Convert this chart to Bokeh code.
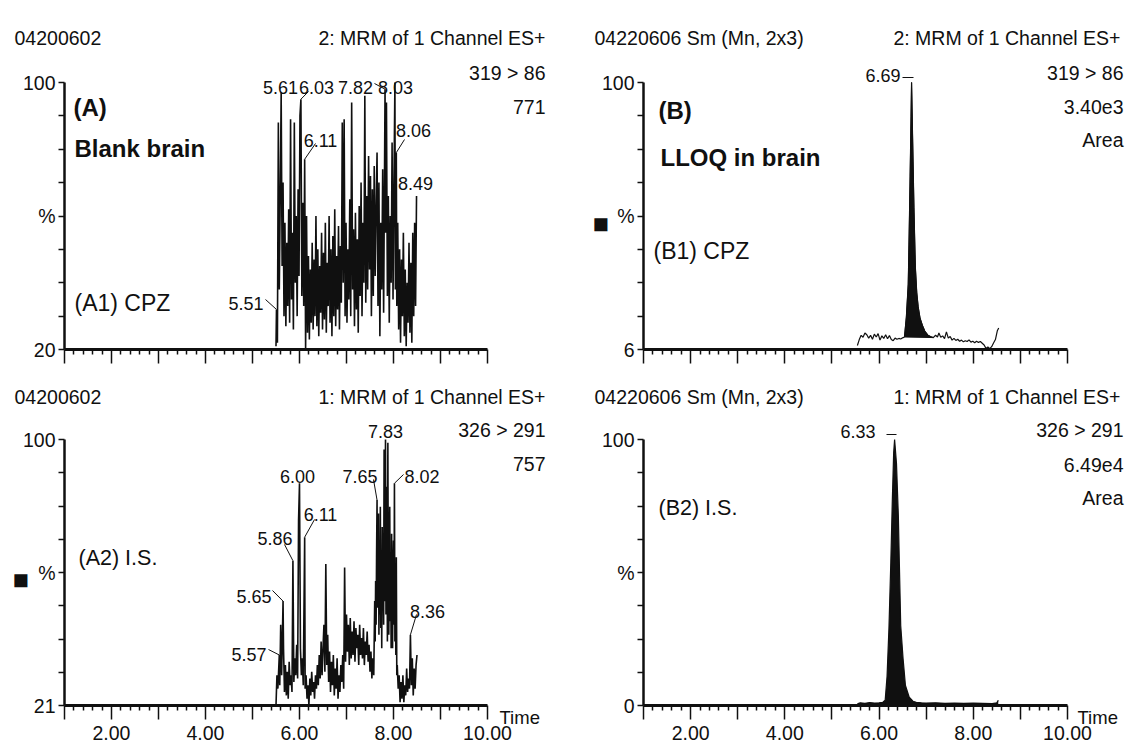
from bokeh.plotting import figure
from bokeh.layouts import column, row
from bokeh.models import Range1d, FixedTicker, CustomJSTickFormatter, Label, Arrow
from bokeh.embed import file_html
from bokeh.resources import INLINE

# ---------------- chromatogram data: time (min), relative intensity (%) ----------------
# (A1) blank brain, CPZ channel 319 > 86
a1_time = [5.50, 5.51, 5.53, 5.55, 5.57, 5.59, 5.61, 5.63, 5.65, 5.67, 5.69, 5.71, 5.73, 5.75,
           5.77, 5.79, 5.81, 5.83, 5.85, 5.87, 5.89, 5.91, 5.93, 5.95, 5.97, 5.99, 6.01, 6.03,
           6.05, 6.07, 6.09, 6.11, 6.13, 6.15, 6.17, 6.19, 6.21, 6.23, 6.25, 6.27, 6.29, 6.31,
           6.33, 6.35, 6.37, 6.39, 6.41, 6.43, 6.45, 6.47, 6.49, 6.51, 6.53, 6.55, 6.57, 6.59,
           6.61, 6.63, 6.65, 6.67, 6.69, 6.71, 6.73, 6.75, 6.77, 6.79, 6.81, 6.83, 6.85, 6.87,
           6.89, 6.91, 6.93, 6.95, 6.97, 6.99, 7.01, 7.03, 7.05, 7.07, 7.09, 7.11, 7.13, 7.15,
           7.17, 7.19, 7.21, 7.23, 7.25, 7.27, 7.29, 7.31, 7.33, 7.35, 7.37, 7.39, 7.41, 7.43,
           7.45, 7.47, 7.49, 7.51, 7.53, 7.55, 7.57, 7.59, 7.61, 7.63, 7.65, 7.67, 7.69, 7.71,
           7.73, 7.75, 7.77, 7.79, 7.82, 7.83, 7.85, 7.87, 7.89, 7.91, 7.93, 7.95, 7.97, 7.99,
           8.01, 8.03, 8.04, 8.06, 8.07, 8.09, 8.11, 8.13, 8.15, 8.17, 8.19, 8.21, 8.23, 8.25,
           8.27, 8.29, 8.31, 8.33, 8.35, 8.37, 8.39, 8.41, 8.43, 8.45, 8.47, 8.49]
a1_pct = [21, 32, 22, 88, 38, 66, 97, 45, 70, 30, 58, 27, 52, 33,
          62, 28, 89, 35, 55, 26, 88, 40, 60, 30, 68, 42, 90, 95,
          36, 64, 33, 77, 20, 60, 25, 48, 23, 44, 28, 52, 26, 47,
          30, 60, 27, 50, 24, 45, 31, 55, 26, 49, 29, 58, 25, 46,
          33, 60, 28, 50, 24, 54, 30, 62, 27, 48, 32, 57, 26, 51,
          34, 88, 40, 89, 30, 58, 28, 50, 35, 65, 30, 94, 38, 56,
          27, 61, 32, 53, 25, 63, 36, 70, 30, 58, 40, 96, 34, 66,
          38, 78, 44, 72, 30, 68, 36, 75, 42, 62, 79, 33, 70, 24,
          58, 38, 74, 31, 98, 55, 94, 36, 66, 28, 60, 40, 82, 35,
          70, 100, 38, 79, 33, 58, 26, 50, 22, 47, 30, 55, 24, 44,
          21, 40, 28, 52, 25, 46, 22, 55, 30, 58, 33, 66]
a1_peaks = [5.51, 5.61, 6.03, 6.11, 7.82, 8.03, 8.06, 8.49]

# (A2) blank brain, I.S. channel 326 > 291
a2_time = [5.50, 5.52, 5.54, 5.57, 5.58, 5.60, 5.62, 5.65, 5.66, 5.68, 5.70, 5.72, 5.74, 5.76,
           5.78, 5.80, 5.82, 5.84, 5.86, 5.88, 5.90, 5.92, 5.94, 5.96, 5.98, 6.00, 6.02, 6.04,
           6.06, 6.08, 6.11, 6.12, 6.14, 6.16, 6.18, 6.20, 6.22, 6.24, 6.26, 6.28, 6.30, 6.32,
           6.34, 6.36, 6.38, 6.40, 6.42, 6.44, 6.46, 6.48, 6.50, 6.52, 6.54, 6.56, 6.58, 6.60,
           6.62, 6.64, 6.66, 6.68, 6.70, 6.72, 6.74, 6.76, 6.78, 6.80, 6.82, 6.84, 6.86, 6.88,
           6.90, 6.92, 6.94, 6.96, 6.98, 7.00, 7.02, 7.04, 7.06, 7.08, 7.10, 7.12, 7.14, 7.16,
           7.18, 7.20, 7.22, 7.24, 7.26, 7.28, 7.30, 7.32, 7.34, 7.36, 7.38, 7.40, 7.42, 7.44,
           7.46, 7.48, 7.50, 7.52, 7.54, 7.56, 7.58,
           7.60, 7.61, 7.62, 7.63, 7.64, 7.65, 7.66, 7.67, 7.68, 7.69, 7.70, 7.71, 7.72, 7.73,
           7.74, 7.75, 7.76, 7.77, 7.78, 7.79, 7.80, 7.81, 7.82, 7.83, 7.84, 7.85, 7.86, 7.87,
           7.88, 7.89, 7.90, 7.91, 7.92, 7.93, 7.94, 7.95, 7.96, 7.97, 7.98, 7.99, 8.00, 8.01,
           8.02, 8.03, 8.04, 8.05, 8.06, 8.07, 8.08,
           8.10, 8.12, 8.14, 8.16, 8.18, 8.20, 8.22, 8.24, 8.26, 8.28,
           8.30, 8.32, 8.34, 8.36, 8.38, 8.40, 8.42, 8.44, 8.46, 8.48, 8.50]
a2_pct = [21, 30, 26, 36, 27, 45, 30, 52, 38, 25, 33, 24, 31, 23,
          34, 27, 30, 25, 64, 28, 35, 30, 39, 29, 76, 87, 38, 30,
          35, 27, 71, 26, 30, 23, 27, 21, 29, 24, 31, 25, 28, 23,
          30, 26, 33, 27, 36, 29, 40, 30, 38, 45, 31, 63, 33, 42,
          28, 37, 25, 34, 27, 36, 24, 32, 26, 35, 23, 30, 25, 33,
          28, 36, 26, 62, 34, 48, 37, 45, 33, 47, 35, 43, 36, 46,
          34, 44, 38, 42, 33, 45, 36, 41, 35, 44, 33, 40, 36, 43,
          34, 39, 31, 37, 29, 35, 30,
          52, 40, 58, 45, 66, 82, 50, 70, 78, 42, 62, 48, 80, 44,
          66, 38, 74, 50, 60, 45, 97, 52, 70, 100, 48, 68, 86, 40,
          99, 55, 42, 64, 80, 46, 60, 38, 72, 48, 38, 62, 70, 45,
          87, 40, 58, 36, 65, 30, 33,
          26, 30, 22, 28, 23, 30, 22, 27, 24, 32,
          25, 29, 26, 42, 27, 35, 24, 32, 26, 33, 36]
a2_peaks = [5.57, 5.65, 5.86, 6.00, 6.11, 7.65, 7.83, 8.02, 8.36]

# (B1) LLOQ in brain, CPZ channel 319 > 86
b1_time = [5.54, 5.58, 5.62, 5.66, 5.70, 5.74, 5.78, 5.82, 5.86, 5.90, 5.94, 5.98, 6.02, 6.06,
           6.10, 6.14, 6.18, 6.22, 6.26, 6.30, 6.34, 6.38, 6.42, 6.46, 6.50, 6.54, 6.58, 6.62,
           6.64, 6.66, 6.68, 6.69, 6.71, 6.74, 6.77, 6.80, 6.83, 6.87, 6.92, 6.97, 7.04, 7.10,
           7.15, 7.20, 7.24, 7.27, 7.31, 7.35, 7.39, 7.43, 7.47, 7.51, 7.55, 7.59, 7.63, 7.67,
           7.71, 7.75, 7.79, 7.83, 7.87, 7.91, 7.95, 7.99, 8.03, 8.07, 8.11, 8.15, 8.19, 8.23,
           8.27, 8.31, 8.35, 8.39, 8.43, 8.47, 8.51, 8.54]
b1_pct = [7.4, 9.5, 11.0, 10.3, 11.8, 11.2, 10.0, 11.0, 9.6, 11.4, 10.4, 11.6, 9.3, 10.8,
          9.9, 11.2, 9.8, 10.9, 9.5, 9.1, 10.0, 9.6, 9.9, 9.7, 10.1, 10.4, 17.4, 29.0,
          47.0, 67.0, 88.0, 100.0, 82.0, 56.0, 35.0, 26.0, 21.0, 17.0, 14.5, 12.5, 11.0, 10.5,
          10.2, 11.0, 10.4, 11.8, 10.3, 10.8, 9.8, 12.2, 10.0, 10.6, 9.3, 9.9, 9.2, 9.6,
          8.9, 9.3, 8.7, 9.1, 8.8, 9.4, 8.6, 8.9, 8.4, 8.9, 8.5, 8.8, 8.2, 7.6,
          6.4, 6.9, 6.3, 7.0, 8.3, 9.5, 12.6, 13.6]
b1_peaks = [6.69]
b1_window = (6.54, 7.15)  # integrated peak start / end

# (B2) LLOQ in brain, I.S. channel 326 > 291
b2_time = [5.54, 5.60, 5.70, 5.80, 5.90, 6.00, 6.08, 6.13, 6.17, 6.21, 6.25, 6.28, 6.31, 6.33,
           6.37, 6.41, 6.43, 6.46, 6.51, 6.56, 6.64, 6.72, 6.79, 6.90, 7.00, 7.20, 7.40, 7.60,
           7.80, 8.00, 8.20, 8.40, 8.50, 8.53]
b2_pct = [0.6, 1.0, 0.8, 1.1, 0.9, 1.0, 1.2, 2.0, 11.0, 29.0, 54.0, 76.0, 95.0, 100.0,
          91.0, 71.0, 54.0, 30.0, 17.6, 7.5, 3.1, 1.6, 1.2, 1.0, 0.9, 1.0, 0.8, 0.9,
          0.8, 0.9, 0.8, 0.7, 1.0, 2.0]
b2_peaks = [6.33]

x_label_ticks = [2, 4, 6, 8, 10]

FONT = "Liberation Sans, Arial, sans-serif"
INK = "#101010"


def make_panel(col, rw, y_lo, y_hi, lo_label, x_labels):
    """One chromatogram panel. The frame fills the whole canvas; the axes are pinned
    inside it and bounded to the data span. Returns the figure and a page-pixel mapper."""
    fx0, fw = (0, 560) if col == 0 else (560, 566)
    fy0, fh = (0, 376) if rw == 0 else (376, 376)
    L, R = (64, 487) if col == 0 else (643, 1067)
    T, B = (82, 349) if rw == 0 else (439, 705)
    kx = (R - L) / 9.0
    ky = (B - T) / (y_hi - y_lo)
    xr = Range1d(1 - (L - fx0) / kx, 1 + (fx0 + fw - L) / kx)
    yr = Range1d(y_hi - (fy0 + fh - T) / ky, y_hi + (T - fy0) / ky)
    p = figure(width=fw, height=fh, x_range=xr, y_range=yr, title=None,
               output_backend="svg", toolbar_location=None, min_border=0)
    p.outline_line_color = None
    p.grid.visible = False
    p.background_fill_color = "white"
    p.border_fill_color = "white"

    xa = p.xaxis[0]
    xa.fixed_location = y_lo
    xa.bounds = (1, 10)
    xa.ticker = FixedTicker(ticks=list(range(1, 11)),
                            minor_ticks=[round(1 + 0.2 * k, 1) for k in range(46) if k % 5])
    xa.axis_line_width = 3
    xa.axis_line_color = INK
    xa.major_tick_in = 0
    xa.major_tick_out = 14
    xa.minor_tick_in = 0
    xa.minor_tick_out = 5
    xa.major_tick_line_width = 1.5
    xa.minor_tick_line_width = 1.5
    xa.major_tick_line_color = INK
    xa.minor_tick_line_color = INK
    if x_labels:
        xa.formatter = CustomJSTickFormatter(
            args=dict(shown=x_label_ticks),
            code="return shown.includes(Math.round(tick)) && Math.abs(tick - Math.round(tick)) < 1e-6 ? tick.toFixed(2) : '';")
        xa.major_label_text_font = FONT
        xa.major_label_text_font_size = "19.5px"
        xa.major_label_text_color = INK
        xa.major_label_standoff = 6
    else:
        xa.formatter = CustomJSTickFormatter(code="return '';")
        xa.major_label_text_font_size = "0px"
        xa.major_label_standoff = 0

    ya = p.yaxis[0]
    ya.fixed_location = 1
    ya.bounds = (y_lo, y_hi)
    ya.ticker = FixedTicker(ticks=[y_lo + (y_hi - y_lo) * k / 8 for k in range(9)], minor_ticks=[])
    ya.formatter = CustomJSTickFormatter(
        args=dict(lo=y_lo, hi=y_hi, lab=lo_label),
        code="""
        const mid = (lo + hi) / 2;
        if (Math.abs(tick - hi) < 1e-6) return String(hi);
        if (Math.abs(tick - lo) < 1e-6) return lab;
        if (Math.abs(tick - mid) < 1e-6) return '%';
        return '';
        """)
    ya.axis_line_width = 2.5
    ya.axis_line_color = INK
    ya.major_tick_in = 0
    ya.major_tick_out = 6
    ya.major_tick_line_width = 1.5
    ya.major_tick_line_color = INK
    ya.minor_tick_line_color = None
    ya.major_label_text_font = FONT
    ya.major_label_text_font_size = "19.5px"
    ya.major_label_text_color = INK
    ya.major_label_standoff = 3

    def at(px, py):
        return (1 + (px - L) / kx, y_hi - (py - T) / ky)

    return p, at


def put(p, at, px, py, s, size=19.5, align="left", bold=False):
    x, y = at(px, py)
    p.add_layout(Label(x=x, y=y, text=s, text_font=FONT, text_font_size=f"{size}px",
                       text_font_style="bold" if bold else "normal", text_align=align,
                       text_baseline="alphabetic", text_color=INK))


def rule(p, x0, y0, x1, y1):
    p.add_layout(Arrow(x_start=x0, y_start=y0, x_end=x1, y_end=y1, end=None,
                       line_width=1, line_color=INK))


def peak_labels(p, at, t, v, peaks, spots):
    for pk, (px, py, align, lead) in zip(peaks, spots):
        put(p, at, px, py, f"{pk:.2f}", size=18, align=align)
        if lead is not None:
            x0, y0 = at(*lead)
            rule(p, x0, y0, pk, v[t.index(pk)])


def apex_mark(p, at, px0, px1, py):
    x0, y0 = at(px0, py)
    x1, _ = at(px1, py)
    rule(p, x0, y0, x1, y0)


# ---------------- (A1) ----------------
pa1, at_a1 = make_panel(0, 0, 20, 100, "20", False)
pa1.line(a1_time, a1_pct, line_color=INK, line_width=1.6)
put(pa1, at_a1, 14, 37, "04200602")
put(pa1, at_a1, 545, 37, "2: MRM of 1 Channel ES+", align="right")
put(pa1, at_a1, 545, 72, "319 > 86", align="right")
put(pa1, at_a1, 545, 106, "771", align="right")
put(pa1, at_a1, 73, 107, "(A)", size=24, bold=True)
put(pa1, at_a1, 74, 148, "Blank brain", size=24, bold=True)
put(pa1, at_a1, 74, 302, "(A1)  CPZ", size=23)
peak_labels(pa1, at_a1, a1_time, a1_pct, a1_peaks, [
    (263, 303, "right", (265, 299)),
    (280, 87, "center", None),
    (316, 87, "center", (308, 91)),
    (320, 140, "center", (315, 143)),
    (355, 87, "center", (374, 83)),
    (395, 87, "center", None),
    (413, 130, "center", (404, 139)),
    (415, 183, "center", None),
])

# ---------------- (B1) ----------------
pb1, at_b1 = make_panel(1, 0, 6, 100, "6", False)
i0, i1 = b1_time.index(b1_window[0]), b1_time.index(b1_window[1])
pb1.patch(b1_time[i0:i1 + 1], b1_pct[i0:i1 + 1], fill_color=INK, line_color=INK, line_width=1)
pb1.line(b1_time, b1_pct, line_color=INK, line_width=1.2)
put(pb1, at_b1, 594, 37, "04220606 Sm (Mn, 2x3)")
put(pb1, at_b1, 1120, 37, "2: MRM of 1 Channel ES+", align="right")
put(pb1, at_b1, 1123, 72, "319 > 86", align="right")
put(pb1, at_b1, 1123, 106, "3.40e3", align="right")
put(pb1, at_b1, 1123, 139, "Area", align="right")
put(pb1, at_b1, 658, 110, "(B)", size=24, bold=True)
put(pb1, at_b1, 660, 157, "LLOQ in brain", size=24, bold=True)
put(pb1, at_b1, 653, 250, "(B1) CPZ", size=23)
put(pb1, at_b1, 592, 223, "■", size=27)
peak_labels(pb1, at_b1, b1_time, b1_pct, b1_peaks, [(900, 75, "right", None)])
apex_mark(pb1, at_b1, 902, 913, 77)

# ---------------- (A2) ----------------
pa2, at_a2 = make_panel(0, 1, 21, 100, "21", True)
pa2.line(a2_time, a2_pct, line_color=INK, line_width=1.6)
put(pa2, at_a2, 14, 396, "04200602")
put(pa2, at_a2, 545, 396, "1: MRM of 1 Channel ES+", align="right")
put(pa2, at_a2, 545, 429, "326 > 291", align="right")
put(pa2, at_a2, 545, 463, "757", align="right")
put(pa2, at_a2, 78, 557, "(A2)  I.S.", size=21.5)
put(pa2, at_a2, 12, 579, "■", size=27)
put(pa2, at_a2, 499, 717, "Time", size=18.5)
peak_labels(pa2, at_a2, a2_time, a2_pct, a2_peaks, [
    (266, 654, "right", (268, 649)),
    (271, 596, "right", (272, 590)),
    (292, 538, "right", (284, 544)),
    (297, 476, "center", None),
    (320, 514, "center", (314, 519)),
    (377, 476, "right", (373, 479)),
    (385, 431, "center", None),
    (404, 476, "left", (403, 474)),
    (427, 611, "center", (416, 614)),
])

# ---------------- (B2) ----------------
pb2, at_b2 = make_panel(1, 1, 0, 100, "0", True)
pb2.varea(x=b2_time, y1=0, y2=b2_pct, fill_color=INK)
pb2.line(b2_time, b2_pct, line_color=INK, line_width=1.2)
put(pb2, at_b2, 594, 396, "04220606 Sm (Mn, 2x3)")
put(pb2, at_b2, 1120, 396, "1: MRM of 1 Channel ES+", align="right")
put(pb2, at_b2, 1123, 429, "326 > 291", align="right")
put(pb2, at_b2, 1123, 464, "6.49e4", align="right")
put(pb2, at_b2, 1123, 497, "Area", align="right")
put(pb2, at_b2, 658, 507, "(B2) I.S.", size=21.5)
put(pb2, at_b2, 1077, 717, "Time", size=18.5)
peak_labels(pb2, at_b2, b2_time, b2_pct, b2_peaks, [(875, 431, "right", None)])
apex_mark(pb2, at_b2, 886, 896, 434)

layout = column(row(pa1, pb1), row(pa2, pb2))
open("out.html", "w").write(file_html(layout, INLINE))
